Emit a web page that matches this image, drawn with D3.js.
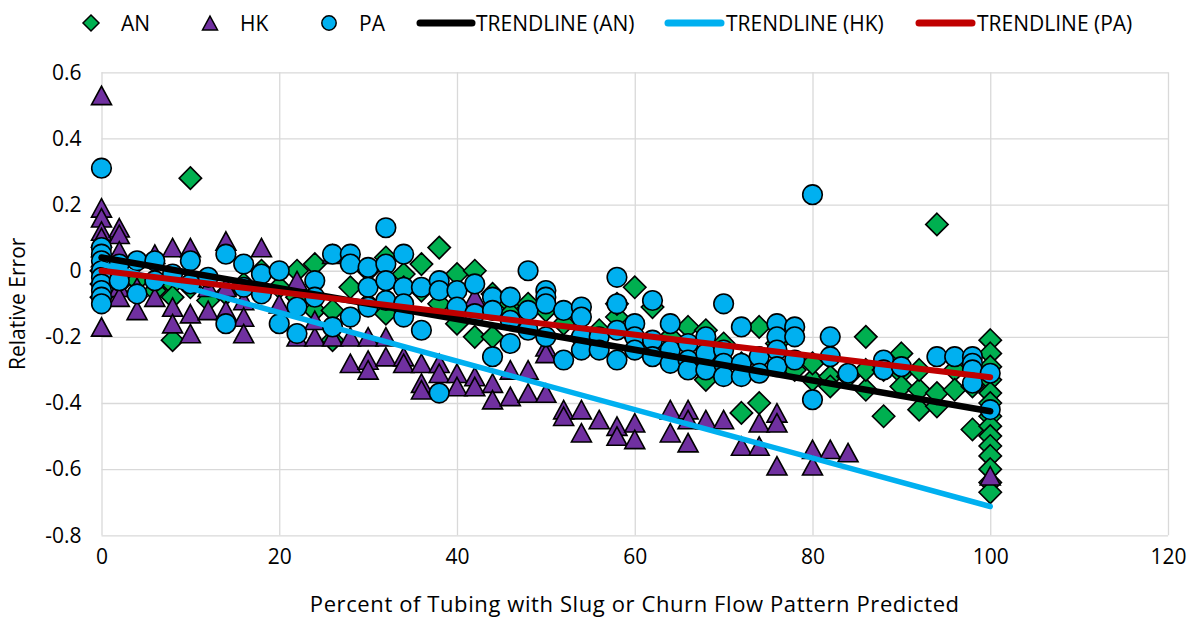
<!DOCTYPE html>
<html>
<head>
<meta charset="utf-8">
<script src="https://cdn.jsdelivr.net/npm/d3@7"></script>
<style>
html,body{margin:0;padding:0;background:#fff;}
svg{display:block;font-family:"Open Sans",sans-serif;}
</style>
</head>
<body>
<svg id="chart" width="1195" height="619"></svg>
<script>
const xTicks = [0, 20, 40, 60, 80, 100, 120];
const yTicks = [-0.8, -0.6, -0.4, -0.2, 0, 0.2, 0.4, 0.6];
const seriesNames = ["AN", "HK", "PA"];
const trendNames = ["TRENDLINE (AN)", "TRENDLINE (HK)", "TRENDLINE (PA)"];

const anData = [[0,0.0],[0,-0.04],[0,-0.08],[2,0.02],[2,-0.04],[4,-0.03],[6,-0.06],[8,-0.04],[8,-0.08],[8,-0.21],[10,0.28],[10,-0.05],[12,-0.09],[14,-0.07],[16,-0.04],[18,0.0],[18,-0.06],[20,-0.05],[22,0.0],[22,-0.08],[24,0.02],[24,-0.12],[26,-0.12],[26,-0.21],[28,-0.05],[30,0.0],[30,-0.1],[32,0.04],[32,-0.13],[34,-0.01],[34,-0.05],[36,0.02],[36,-0.06],[38,0.07],[38,-0.1],[40,-0.01],[40,-0.16],[42,0.0],[42,-0.2],[44,-0.07],[44,-0.2],[46,-0.1],[46,-0.13],[48,-0.1],[50,-0.12],[52,-0.16],[54,-0.2],[56,-0.18],[58,-0.14],[58,-0.1],[60,-0.05],[60,-0.2],[62,-0.11],[62,-0.25],[64,-0.2],[66,-0.17],[66,-0.28],[68,-0.18],[68,-0.33],[70,-0.22],[72,-0.43],[72,-0.28],[74,-0.17],[74,-0.4],[76,-0.22],[78,-0.3],[80,-0.33],[80,-0.28],[82,-0.32],[82,-0.35],[84,-0.32],[86,-0.2],[86,-0.36],[86,-0.3],[88,-0.44],[88,-0.3],[90,-0.25],[90,-0.31],[90,-0.35],[92,-0.42],[92,-0.36],[92,-0.3],[94,0.14],[94,-0.41],[94,-0.37],[96,-0.3],[96,-0.36],[98,-0.48],[98,-0.35],[100,-0.21],[100,-0.25],[100,-0.29],[100,-0.33],[100,-0.37],[100,-0.4],[100,-0.44],[100,-0.47],[100,-0.5],[100,-0.53],[100,-0.56],[100,-0.6],[100,-0.64],[100,-0.67]];

const hkData = [[0,0.53],[0,0.19],[0,0.16],[0,0.12],[0,0.1],[0,0.07],[0,0.04],[0,-0.05],[0,-0.17],[2,0.13],[2,0.11],[2,0.06],[2,-0.05],[2,-0.08],[4,-0.05],[4,-0.12],[6,0.05],[6,-0.08],[8,0.07],[8,-0.11],[8,-0.16],[10,0.07],[10,-0.13],[10,-0.19],[12,-0.05],[12,-0.12],[14,0.09],[14,-0.05],[14,-0.12],[16,-0.09],[16,-0.14],[16,-0.19],[18,0.07],[18,-0.04],[20,-0.1],[22,-0.03],[22,-0.2],[24,-0.2],[24,-0.15],[26,0.05],[26,-0.2],[28,-0.28],[28,-0.2],[30,-0.27],[30,-0.3],[30,-0.2],[32,-0.26],[32,-0.2],[34,-0.26],[34,-0.28],[36,-0.28],[36,-0.34],[36,-0.36],[38,-0.28],[38,-0.31],[40,-0.31],[40,-0.35],[42,-0.08],[42,-0.32],[42,-0.35],[44,-0.34],[44,-0.39],[46,-0.3],[46,-0.38],[48,-0.37],[48,-0.3],[50,-0.23],[50,-0.25],[50,-0.37],[52,-0.42],[52,-0.44],[54,-0.42],[54,-0.49],[56,-0.45],[58,-0.47],[58,-0.5],[60,-0.46],[60,-0.51],[64,-0.42],[64,-0.49],[66,-0.42],[66,-0.45],[66,-0.52],[68,-0.45],[70,-0.45],[72,-0.53],[74,-0.46],[74,-0.53],[76,-0.43],[76,-0.46],[76,-0.59],[80,-0.54],[80,-0.59],[82,-0.54],[84,-0.55],[100,-0.62]];

const paData = [[0,0.31],[0,0.07],[0,0.05],[0,0.03],[0,0.0],[0,-0.02],[0,-0.04],[0,-0.06],[0,-0.08],[0,-0.1],[2,0.02],[2,-0.03],[4,0.03],[4,-0.07],[6,0.03],[6,-0.03],[8,-0.01],[10,0.03],[10,-0.04],[12,-0.02],[14,0.05],[14,-0.16],[16,0.02],[16,-0.05],[18,-0.01],[18,-0.07],[20,0.0],[20,-0.16],[22,-0.11],[22,-0.19],[24,-0.03],[24,-0.08],[26,0.05],[26,-0.17],[28,0.05],[28,0.02],[28,-0.14],[30,0.01],[30,-0.05],[30,-0.11],[32,0.13],[32,0.02],[32,-0.03],[32,-0.09],[34,0.05],[34,-0.05],[34,-0.1],[34,-0.14],[36,-0.05],[36,-0.18],[38,-0.03],[38,-0.06],[38,-0.37],[40,-0.06],[40,-0.11],[42,-0.13],[42,-0.04],[44,-0.08],[44,-0.12],[44,-0.26],[46,-0.08],[46,-0.15],[46,-0.22],[48,0.0],[48,-0.18],[48,-0.12],[50,-0.06],[50,-0.08],[50,-0.1],[50,-0.2],[52,-0.12],[52,-0.27],[54,-0.11],[54,-0.14],[54,-0.2],[54,-0.24],[56,-0.2],[56,-0.24],[58,-0.02],[58,-0.1],[58,-0.18],[58,-0.27],[60,-0.16],[60,-0.2],[60,-0.24],[62,-0.09],[62,-0.21],[62,-0.26],[64,-0.16],[64,-0.24],[64,-0.28],[66,-0.22],[66,-0.27],[66,-0.3],[68,-0.2],[68,-0.25],[68,-0.3],[70,-0.1],[70,-0.24],[70,-0.28],[70,-0.32],[72,-0.17],[72,-0.28],[72,-0.32],[74,-0.26],[74,-0.31],[76,-0.16],[76,-0.2],[76,-0.24],[76,-0.29],[78,-0.17],[78,-0.2],[78,-0.27],[80,0.23],[80,-0.39],[82,-0.2],[82,-0.26],[84,-0.31],[88,-0.27],[88,-0.3],[90,-0.29],[94,-0.26],[96,-0.26],[98,-0.26],[98,-0.28],[98,-0.3],[98,-0.34],[100,-0.31],[100,-0.42]];

const trendAN = [[0,0.04],[100,-0.425]];
const trendHK = [[0,0.02],[100,-0.713]];
const trendPA = [[0,0.0],[100,-0.322]];

const W = 1195, H = 619;
const M = {left:101.5, right:1168, top:72.3, bottom:535.3};
const colors = {AN:"#00B050", HK:"#7030A0", PA:"#00B0F0"};
const trendColors = ["#000000", "#00B0F0", "#C00000"];

const svg = d3.select("#chart");
const x = d3.scaleLinear().domain([0,120]).range([M.left, M.right]);
const y = d3.scaleLinear().domain([-0.8,0.6]).range([M.bottom, M.top]);

// grid + axes
const gx = svg.append("g").attr("transform",`translate(0,${M.bottom})`)
  .call(d3.axisBottom(x).tickValues(xTicks).tickSize(-(M.bottom-M.top)).tickPadding(14).tickFormat(d=>String(d)));
const gy = svg.append("g").attr("transform",`translate(${M.left},0)`)
  .call(d3.axisLeft(y).tickValues(yTicks).tickSize(-(M.right-M.left)).tickPadding(20)
    .tickFormat(d=> Math.abs(d)<1e-9 ? "0" : d.toFixed(1)));
[gx,gy].forEach(g=>{
  g.select(".domain").remove();
  g.selectAll(".tick line").attr("stroke","#D9D9D9").attr("stroke-width",1.3);
  g.selectAll(".tick text").attr("fill","#000").style("font-size","21px").style("font-family","'Open Sans',sans-serif");
});

// marker shapes
function diamondPath(s){ return `M0,${-s}L${s},0L0,${s}L${-s},0Z`; }
function trianglePath(w){ const h=w*0.92; return `M0,${-h/2}L${w/2},${h/2}L${-w/2},${h/2}Z`; }

const plot = svg.append("g");
plot.selectAll("path.an").data(anData).enter().append("path")
  .attr("d", diamondPath(11.2))
  .attr("transform", d=>`translate(${x(d[0])},${y(d[1])})`)
  .attr("fill", colors.AN).attr("stroke","#000").attr("stroke-width",1.6);
plot.selectAll("path.hk").data(hkData).enter().append("path")
  .attr("d", trianglePath(20))
  .attr("transform", d=>`translate(${x(d[0])},${y(d[1])})`)
  .attr("fill", colors.HK).attr("stroke","#000").attr("stroke-width",1.6).attr("stroke-linejoin","miter");
plot.selectAll("circle.pa").data(paData).enter().append("circle")
  .attr("cx", d=>x(d[0])).attr("cy", d=>y(d[1])).attr("r", 9.8)
  .attr("fill", colors.PA).attr("stroke","#000").attr("stroke-width",1.6);

// trendlines
const line = d3.line().x(d=>x(d[0])).y(d=>y(d[1]));
const trends = [
  {data:trendHK, color:trendColors[1], w:5.5},
  {data:trendAN, color:trendColors[0], w:6.5},
  {data:trendPA, color:trendColors[2], w:6}
];
trends.forEach(t=>{
  svg.append("path").attr("d", line(t.data)).attr("fill","none")
    .attr("stroke", t.color).attr("stroke-width", t.w).attr("stroke-linecap","round");
});

// legend
const ly = 23;
const leg = svg.append("g").style("font-size","21px");
const markerItems = [
  {cx:91, tx:121, name:seriesNames[0], type:"d"},
  {cx:210, tx:240, name:seriesNames[1], type:"t"},
  {cx:329, tx:359, name:seriesNames[2], type:"c"}
];
markerItems.forEach(m=>{
  if(m.type==="d") leg.append("path").attr("d",diamondPath(8)).attr("transform",`translate(${m.cx},${ly})`).attr("fill",colors.AN).attr("stroke","#000").attr("stroke-width",1.5);
  if(m.type==="t") leg.append("path").attr("d",trianglePath(15)).attr("transform",`translate(${m.cx},${ly})`).attr("fill",colors.HK).attr("stroke","#000").attr("stroke-width",1.5);
  if(m.type==="c") leg.append("circle").attr("cx",m.cx).attr("cy",ly).attr("r",7.2).attr("fill",colors.PA).attr("stroke","#000").attr("stroke-width",1.5);
  leg.append("text").attr("x",m.tx).attr("y",ly).attr("dy","0.36em").text(m.name);
});
const lineItems = [
  {x1:420, x2:472, tx:476, name:trendNames[0], color:trendColors[0]},
  {x1:668, x2:721, tx:726, name:trendNames[1], color:trendColors[1]},
  {x1:919, x2:972, tx:977, name:trendNames[2], color:trendColors[2]}
];
lineItems.forEach(l=>{
  leg.append("line").attr("x1",l.x1).attr("x2",l.x2).attr("y1",ly).attr("y2",ly)
    .attr("stroke",l.color).attr("stroke-width",7).attr("stroke-linecap","round");
  leg.append("text").attr("x",l.tx).attr("y",ly).attr("dy","0.36em").text(l.name);
});

// axis titles
svg.append("text").attr("x",(M.left+M.right)/2).attr("y",612).attr("text-anchor","middle")
  .style("font-size","22px").style("letter-spacing","0.6px").text("Percent of Tubing with Slug or Churn Flow Pattern Predicted");
svg.append("text").attr("transform",`translate(25,${(M.top+M.bottom)/2}) rotate(-90)`).attr("text-anchor","middle")
  .style("font-size","21px").text("Relative Error");
</script>
</body>
</html>
